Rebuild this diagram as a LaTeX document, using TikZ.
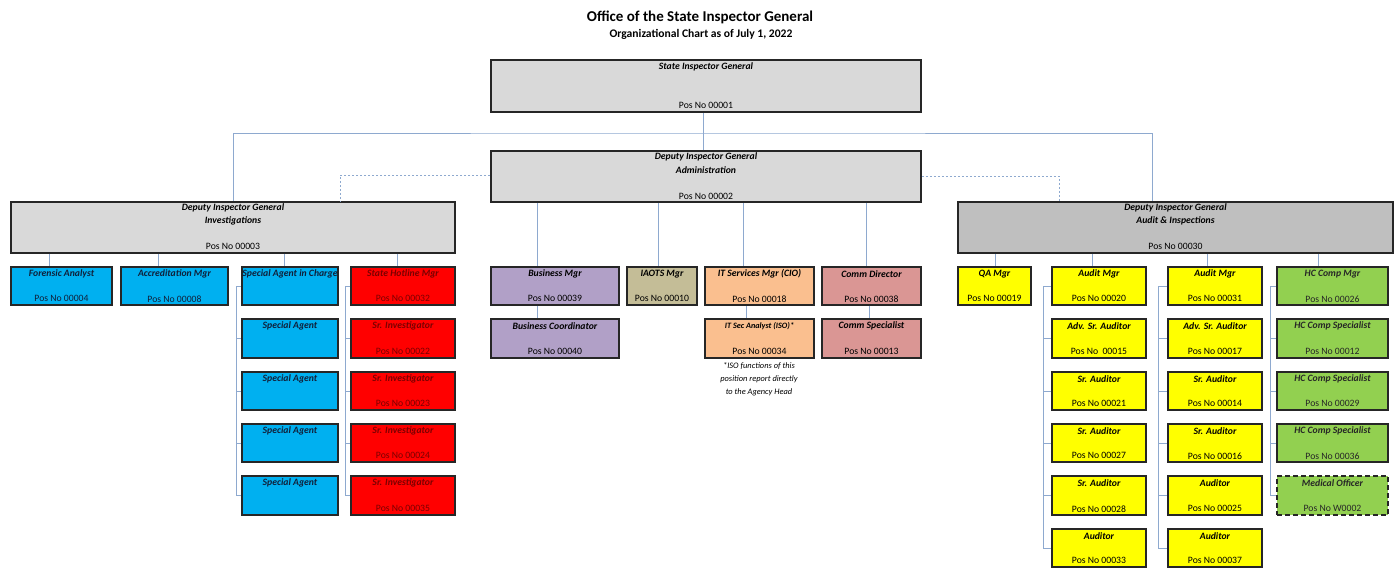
\documentclass[tikz,border=0pt]{standalone}
\usepackage{fontspec}
\setmainfont{Carlito}
\usetikzlibrary{fit,calc}
\definecolor{cblue}{HTML}{00B0F0}
\definecolor{cred}{HTML}{FF0000}
\definecolor{cpurple}{HTML}{B1A0C7}
\definecolor{ckhaki}{HTML}{C4BD97}
\definecolor{corange}{HTML}{FABF8F}
\definecolor{crose}{HTML}{DA9694}
\definecolor{cyellow}{HTML}{FFFF00}
\definecolor{cgreen}{HTML}{92D050}
\definecolor{cgrey}{HTML}{D9D9D9}
\definecolor{cgrey2}{HTML}{BFBFBF}
\definecolor{cline}{HTML}{8EA9CF}
\definecolor{cborder}{HTML}{262626}
\definecolor{darkred}{HTML}{7A0000}
\definecolor{navy}{HTML}{10203A}
\tikzset{
  box/.style={draw=cborder,line width=1.6pt,rectangle,inner sep=0pt},
  ttl/.style={font=\fontsize{9.7}{11}\selectfont\bfseries\itshape,inner sep=0pt},
  posn/.style={font=\fontsize{9.7}{11}\selectfont,inner sep=0pt},
  conn/.style={draw=cline,line width=0.9pt},
  dconn/.style={draw=cline,line width=0.9pt,dash pattern=on 2.5pt off 1.5pt},
  bluebox/.style={box,fill=cblue},
  redbox/.style={box,fill=cred},
  yelbox/.style={box,fill=cyellow},
  grnbox/.style={box,fill=cgreen},
}
% name, x1, y1, x2, y2, style, title, pos, textcolor
\newcommand\obox[9]{%
  \path (#2,#3) coordinate (#1-nw) (#4,#5) coordinate (#1-se);
  \node[#6,fit=(#1-nw)(#1-se)] (#1) {};
  \node[ttl,text=#9] (#1-t) at ($(#1.north)+(0,7.5)$) {#7};
  \node[posn,text=#9] (#1-p) at ($(#1.south)+(0,-7)$) {#8};
}
\begin{document}
\begin{tikzpicture}[x=1pt,y=-1pt]
\useasboundingbox (0,0) rectangle (1395,568);
% titles
\node[font=\fontsize{15}{17}\selectfont\bfseries] (title) at (700,17) {Office of the State Inspector General};
\node[font=\fontsize{11.6}{13}\selectfont\bfseries] (subtitle) at (701,34) {Organizational Chart as of July 1, 2022};
% top level
\obox{sig}{491}{60}{921}{112}{box,fill=cgrey}{State Inspector General}{Pos No 00001}{black}
\path (491,151) coordinate (adm-nw) (921,202) coordinate (adm-se);
\node[box,fill=cgrey,fit=(adm-nw)(adm-se)] (adm) {};
\node[ttl] (adm-t1) at ($(adm.north)+(0,6.5)$) {Deputy Inspector General};
\node[ttl] (adm-t2) at ($(adm.north)+(0,20)$) {Administration};
\node[posn] (adm-p) at ($(adm.south)+(0,-6.5)$) {Pos No 00002};
\path (11,202) coordinate (inv-nw) (455,253) coordinate (inv-se);
\node[box,fill=cgrey,fit=(inv-nw)(inv-se)] (inv) {};
\node[ttl] (inv-t1) at ($(inv.north)+(0,7)$) {Deputy Inspector General};
\node[ttl] (inv-t2) at ($(inv.north)+(0,20)$) {Investigations};
\node[posn] (inv-p) at ($(inv.south)+(0,-7)$) {Pos No 00003};
\path (958,202) coordinate (aud-nw) (1393,253) coordinate (aud-se);
\node[box,fill=cgrey2,fit=(aud-nw)(aud-se)] (aud) {};
\node[ttl] (aud-t1) at ($(aud.north)+(0,7)$) {Deputy Inspector General};
\node[ttl] (aud-t2) at ($(aud.north)+(0,20)$) {Audit \& Inspections};
\node[posn] (aud-p) at ($(aud.south)+(0,-7)$) {Pos No 00030};
% investigations
\obox{fa}{11}{267}{112}{305}{bluebox}{Forensic Analyst}{Pos No 00004}{navy}
\obox{am}{121}{267}{228}{305}{bluebox}{Accreditation Mgr}{Pos No 00008}{navy}
\obox{saic}{242}{267}{338}{305}{bluebox}{Special Agent in Charge}{}{navy}
\obox{sa1}{242}{319}{338}{358}{bluebox}{Special Agent}{}{navy}
\obox{sa2}{242}{372}{338}{410}{bluebox}{Special Agent}{}{navy}
\obox{sa3}{242}{424}{338}{462}{bluebox}{Special Agent}{}{navy}
\obox{sa4}{242}{476}{338}{515}{bluebox}{Special Agent}{}{navy}
\obox{shm}{351}{267}{455}{305}{redbox}{State Hotline Mgr}{Pos No 00032}{darkred}
\obox{si1}{351}{319}{455}{358}{redbox}{Sr. Investigator}{Pos No 00022}{darkred}
\obox{si2}{351}{372}{455}{410}{redbox}{Sr. Investigator}{Pos No 00023}{darkred}
\obox{si3}{351}{424}{455}{462}{redbox}{Sr. Investigator}{Pos No 00024}{darkred}
\obox{si4}{351}{476}{455}{515}{redbox}{Sr. Investigator}{Pos No 00035}{darkred}
% administration
\obox{bm}{491}{267}{619}{305}{box,fill=cpurple}{Business Mgr}{Pos No 00039}{black}
\obox{bc}{491}{319}{619}{358}{box,fill=cpurple}{Business Coordinator}{Pos No 00040}{black}
\obox{ia}{627}{267}{697}{305}{box,fill=ckhaki}{IAOTS Mgr}{Pos No 00010}{black}
\obox{its}{705}{267}{814}{305}{box,fill=corange}{IT Services Mgr (CIO)}{Pos No 00018}{black}
\obox{isa}{705}{319}{814}{358}{box,fill=corange}{\fontsize{8.2}{9}\selectfont IT Sec Analyst (ISO)*}{Pos No 00034}{black}
\obox{cd}{822}{267}{921}{305}{box,fill=crose}{Comm Director}{Pos No 00038}{black}
\obox{cs}{822}{319}{921}{358}{box,fill=crose}{Comm Specialist}{Pos No 00013}{black}
\node[font=\fontsize{8.4}{13}\selectfont\itshape,align=center,anchor=north,inner sep=0pt] (note) at (759,362) {*ISO functions of this\\position report directly\\to the Agency Head};
% audit
\obox{qa}{958}{267}{1031}{305}{yelbox}{QA Mgr}{Pos No 00019}{black}
\obox{a11}{1052}{267}{1146}{305}{yelbox}{Audit Mgr}{Pos No 00020}{black}
\obox{a12}{1052}{319}{1146}{358}{yelbox}{Adv. Sr. Auditor}{Pos No\ \ 00015}{black}
\obox{a13}{1052}{372}{1146}{410}{yelbox}{Sr. Auditor}{Pos No 00021}{black}
\obox{a14}{1052}{424}{1146}{462}{yelbox}{Sr. Auditor}{Pos No 00027}{black}
\obox{a15}{1052}{476}{1146}{515}{yelbox}{Sr. Auditor}{Pos No 00028}{black}
\obox{a16}{1052}{529}{1146}{567}{yelbox}{Auditor}{Pos No 00033}{black}
\obox{a21}{1168}{267}{1262}{305}{yelbox}{Audit Mgr}{Pos No 00031}{black}
\obox{a22}{1168}{319}{1262}{358}{yelbox}{Adv. Sr. Auditor}{Pos No 00017}{black}
\obox{a23}{1168}{372}{1262}{410}{yelbox}{Sr. Auditor}{Pos No 00014}{black}
\obox{a24}{1168}{424}{1262}{462}{yelbox}{Sr. Auditor}{Pos No 00016}{black}
\obox{a25}{1168}{476}{1262}{515}{yelbox}{Auditor}{Pos No 00025}{black}
\obox{a26}{1168}{529}{1262}{567}{yelbox}{Auditor}{Pos No 00037}{black}
\obox{hc1}{1277}{267}{1388}{305}{grnbox}{HC Comp Mgr}{Pos No 00026}{black!85}
\obox{hc2}{1277}{319}{1388}{358}{grnbox}{HC Comp Specialist}{Pos No 00012}{black!85}
\obox{hc3}{1277}{372}{1388}{410}{grnbox}{HC Comp Specialist}{Pos No 00029}{black!85}
\obox{hc4}{1277}{424}{1388}{462}{grnbox}{HC Comp Specialist}{Pos No 00036}{black!85}
\obox{hc5}{1277}{476}{1388}{515}{grnbox,dash pattern=on 5pt off 3pt}{Medical Officer}{Pos No W0002}{black!85}
% connectors: top
\coordinate (bar) at (703,133);
\draw[conn] (sig.south -| bar) -- (adm.north -| bar);
\draw[conn] (inv.north -| 233,0) |- (bar) -| (aud.north -| 1152,0);
\draw[dconn] (adm.west |- 0,175) -| (inv.north -| 340,0);
\draw[dconn] (adm.east |- 0,176) -| (aud.north -| 1059,0);
% investigations children
\foreach \n/\x in {fa/49,am/158,saic/284,shm/397}
  \draw[conn] (inv.south -| \x,0) -- (\n.north -| \x,0);
\draw[conn] (saic.west) -- (saic.west -| 236,0) |- (sa4.west);
\foreach \n in {sa1,sa2,sa3} \draw[conn] (\n.west -| 236,0) -- (\n.west);
\draw[conn] (shm.west) -- (shm.west -| 345,0) |- (si4.west);
\foreach \n in {si1,si2,si3} \draw[conn] (\n.west -| 345,0) -- (\n.west);
% administration children
\foreach \n/\x in {bm/537,ia/658,its/743,cd/866}
  \draw[conn] (adm.south -| \x,0) -- (\n.north -| \x,0);
\draw[conn] (bm.south -| 537,0) -- (bc.north -| 537,0);
\draw[conn] (its.south -| 746,0) -- (isa.north -| 746,0);
\draw[conn] (cd.south -| 869,0) -- (cs.north -| 869,0);
% audit children
\foreach \n/\x in {qa/995,a11/1092,a21/1207,hc1/1318}
  \draw[conn] (aud.south -| \x,0) -- (\n.north -| \x,0);
\draw[conn] (a11.west) -- (a11.west -| 1043,0) |- (a16.west);
\foreach \n in {a12,a13,a14,a15} \draw[conn] (\n.west -| 1043,0) -- (\n.west);
\draw[conn] (a21.west) -- (a21.west -| 1158,0) |- (a26.west);
\foreach \n in {a22,a23,a24,a25} \draw[conn] (\n.west -| 1158,0) -- (\n.west);
\draw[conn] (hc1.west) -- (hc1.west -| 1270,0) |- (hc5.west);
\foreach \n in {hc2,hc3,hc4} \draw[conn] (\n.west -| 1270,0) -- (\n.west);
\end{tikzpicture}
\end{document}
